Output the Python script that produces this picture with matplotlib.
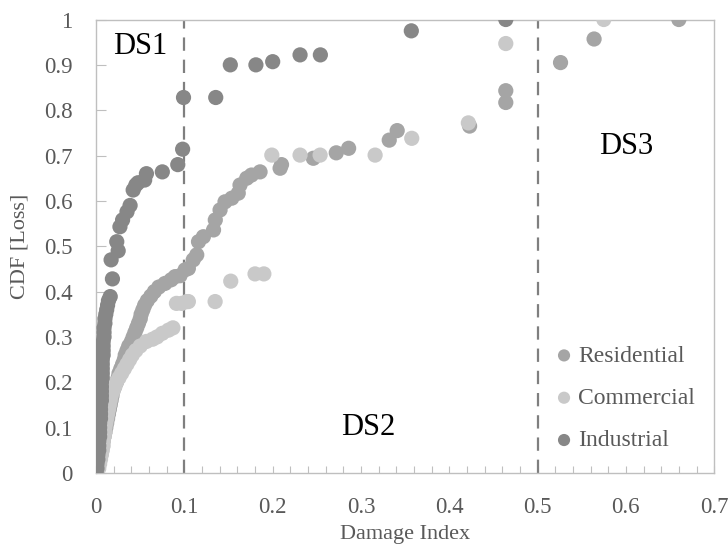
import numpy as np
import matplotlib
matplotlib.use("Agg")
import matplotlib.pyplot as plt
from matplotlib.ticker import MultipleLocator

plt.rcParams['font.family'] = ['Liberation Serif', 'DejaVu Serif']

# CDF of loss vs damage index
resX = [0.000, 0.002, 0.003, 0.004, 0.005, 0.006, 0.007, 0.008, 0.009, 0.010,
        0.011, 0.012, 0.013, 0.014, 0.015, 0.016, 0.017, 0.018, 0.019, 0.021,
        0.023, 0.025, 0.026, 0.028, 0.030, 0.032, 0.033, 0.035, 0.037, 0.040,
        0.042, 0.044, 0.046, 0.048, 0.050, 0.051, 0.053, 0.055, 0.058, 0.062,
        0.066, 0.071, 0.078, 0.085, 0.0895, 0.095, 0.1008, 0.1045, 0.110, 0.114,
        0.116, 0.1215, 0.133, 0.135, 0.1404, 0.146, 0.1537, 0.161, 0.163, 0.1706,
        0.176, 0.1857, 0.2084, 0.210, 0.246, 0.272, 0.286, 0.332, 0.341, 0.423,
        0.464, 0.464, 0.526, 0.564, 0.660]
resY = [0.000, 0.010, 0.020, 0.030, 0.040, 0.050, 0.060, 0.070, 0.080, 0.090,
        0.100, 0.110, 0.120, 0.130, 0.140, 0.150, 0.160, 0.170, 0.180, 0.190,
        0.200, 0.210, 0.220, 0.230, 0.240, 0.250, 0.260, 0.270, 0.280, 0.290,
        0.300, 0.310, 0.320, 0.330, 0.340, 0.350, 0.360, 0.370, 0.380, 0.390,
        0.400, 0.410, 0.418, 0.426, 0.433, 0.435, 0.448, 0.451, 0.470, 0.481,
        0.510, 0.521, 0.536, 0.558, 0.580, 0.598, 0.606, 0.617, 0.635, 0.650,
        0.657, 0.664, 0.672, 0.680, 0.694, 0.706, 0.716, 0.734, 0.755, 0.765,
        0.817, 0.843, 0.905, 0.957, 1.000]

comX = [0.000, 0.003, 0.004, 0.005, 0.006, 0.007, 0.008, 0.008, 0.009, 0.010,
        0.010, 0.011, 0.012, 0.013, 0.014, 0.015, 0.016, 0.017, 0.019, 0.021,
        0.023, 0.026, 0.029, 0.032, 0.035, 0.038, 0.041, 0.045, 0.050, 0.057,
        0.064, 0.069, 0.075, 0.082, 0.087, 0.091, 0.097, 0.1027, 0.1045, 0.1348,
        0.1525, 0.180, 0.190, 0.199, 0.231, 0.2537, 0.316, 0.3575, 0.4216, 0.464,
        0.575]
comY = [0.000, 0.010, 0.020, 0.030, 0.040, 0.050, 0.060, 0.070, 0.080, 0.090,
        0.100, 0.110, 0.120, 0.130, 0.140, 0.150, 0.160, 0.170, 0.180, 0.190,
        0.200, 0.210, 0.220, 0.230, 0.240, 0.250, 0.260, 0.270, 0.280, 0.290,
        0.295, 0.300, 0.308, 0.315, 0.320, 0.374, 0.374, 0.378, 0.378, 0.378,
        0.423, 0.439, 0.439, 0.701, 0.701, 0.701, 0.701, 0.738, 0.772, 0.947,
        1.000]

indX = [0.000, 0.001, 0.001, 0.002, 0.002, 0.003, 0.003, 0.003, 0.004, 0.004,
        0.004, 0.004, 0.005, 0.005, 0.005, 0.005, 0.006, 0.006, 0.006, 0.006,
        0.006, 0.007, 0.007, 0.007, 0.007, 0.007, 0.008, 0.008, 0.008, 0.008,
        0.009, 0.009, 0.009, 0.010, 0.010, 0.011, 0.012, 0.013, 0.014, 0.016,
        0.0185, 0.017, 0.025, 0.0234, 0.027, 0.030, 0.035, 0.0385, 0.042, 0.045,
        0.0475, 0.055, 0.057, 0.075, 0.0925, 0.098, 0.099, 0.1355, 0.152, 0.181,
        0.200, 0.231, 0.254, 0.357, 0.464]
indY = [0.000, 0.010, 0.020, 0.030, 0.040, 0.050, 0.060, 0.070, 0.080, 0.090,
        0.100, 0.110, 0.120, 0.130, 0.140, 0.150, 0.160, 0.170, 0.180, 0.190,
        0.200, 0.210, 0.220, 0.230, 0.240, 0.250, 0.260, 0.270, 0.280, 0.290,
        0.300, 0.310, 0.320, 0.330, 0.340, 0.350, 0.360, 0.370, 0.380, 0.389,
        0.428, 0.470, 0.490, 0.510, 0.543, 0.558, 0.576, 0.590, 0.624, 0.635,
        0.640, 0.646, 0.660, 0.664, 0.680, 0.714, 0.828, 0.828, 0.900, 0.900,
        0.907, 0.922, 0.922, 0.975, 1.000]

series = [("Residential", resX, resY, "#a5a5a5"),
          ("Commercial", comX, comY, "#c9c9c9"),
          ("Industrial", indX, indY, "#878787")]

thresholds = [0.1, 0.5]
zones = [("DS1", 0.050, 0.94), ("DS2", 0.308, 0.10), ("DS3", 0.600, 0.72)]

textGray = "#595959"
frameGray = "#bfbfbf"

fig = plt.figure(figsize=(7.28, 5.51), dpi=100)
ax = fig.add_axes([0.132, 0.1416, 0.849, 0.823])

for name, x, y, c in series:
  ax.scatter(x, y, s=120, color=c, edgecolors="none", label=name, zorder=3)

for t in thresholds:
  ax.axvline(t, color="#7f7f7f", linestyle=(0, (6, 4)), linewidth=1.6, zorder=2)

for label, x, y in zones:
  ax.text(x, y, label, fontsize=22, color="black", ha="center", va="center")

ax.set_xlim(0, 0.7)
ax.set_ylim(0, 1)
ax.xaxis.set_major_locator(MultipleLocator(0.1))
ax.xaxis.set_minor_locator(MultipleLocator(0.02))
ax.yaxis.set_major_locator(MultipleLocator(0.1))
ax.xaxis.set_major_formatter(lambda v, p: "0" if abs(v) < 1e-9 else f"{v:.1f}")
ax.yaxis.set_major_formatter(lambda v, p: ("0" if abs(v) < 1e-9 else ("1" if abs(v-1) < 1e-9 else f"{v:.1f}")))

ax.tick_params(axis="x", which="both", direction="in", length=5, width=0.8,
               color=frameGray, labelcolor=textGray, labelsize=16.5, pad=17)
ax.tick_params(axis="y", which="major", direction="in", length=7, width=0.8,
               color=frameGray, labelcolor=textGray, labelsize=16.5, pad=17)

for sp in ax.spines.values():
  sp.set_color(frameGray)
  sp.set_linewidth(1.0)

ax.set_xlabel("Damage Index", fontsize=16, color=textGray, labelpad=5)
ax.set_ylabel("CDF [Loss]", fontsize=16, color=textGray, labelpad=10)

ax.legend(loc="center left", bbox_to_anchor=(0.738, 0.165), frameon=False,
          fontsize=17, labelcolor=textGray, handlelength=1.0, handletextpad=0.1,
          labelspacing=0.88, borderpad=0, borderaxespad=0, markerscale=0.8)

plt.savefig("out.png", dpi=100)
